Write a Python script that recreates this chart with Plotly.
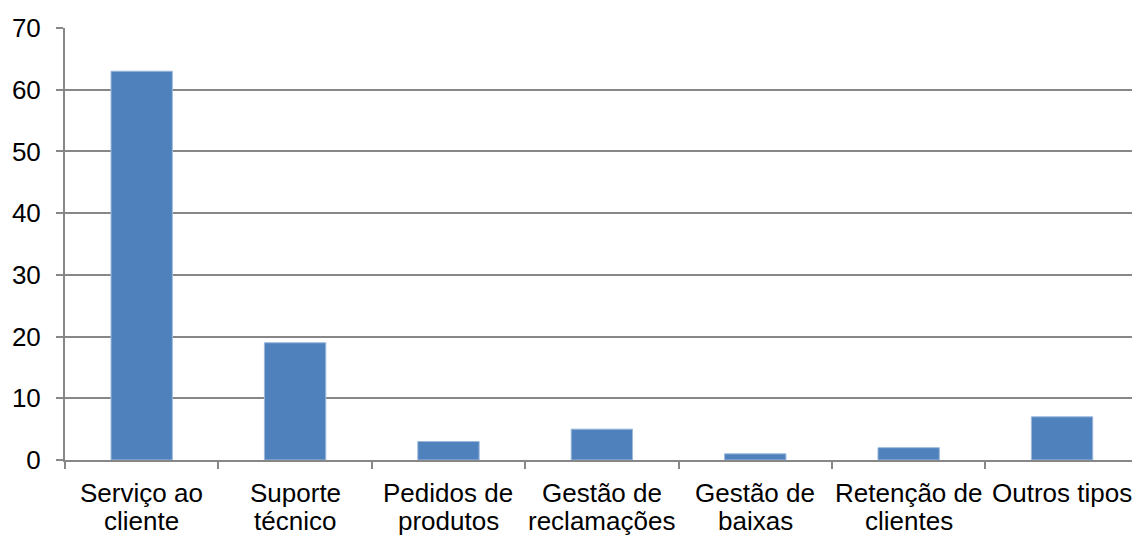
import plotly.graph_objects as go

categorias = [
    "Serviço ao<br>cliente",
    "Suporte<br>técnico",
    "Pedidos de<br>produtos",
    "Gestão de<br>reclamações",
    "Gestão de<br>baixas",
    "Retenção de<br>clientes",
    "Outros tipos",
]
valores = [63, 19, 3, 5, 1, 2, 7]
y_ticks = [0, 10, 20, 30, 40, 50, 60, 70]

cinza = "#878787"
fonte = dict(family="Liberation Sans, Arial, sans-serif", size=26, color="#000000")

W, H = 1132, 536
M_L, M_R, M_T, M_B = 65, 0, 28, 76
plot_h = H - M_T - M_B

fig = go.Figure(
    go.Bar(
        x=list(range(len(categorias))),
        y=valores,
        width=0.4,
        marker=dict(color="#4F81BD", line=dict(color="#9DB9DD", width=1)),
        hovertext=[c.replace("<br>", " ") for c in categorias],
        hoverinfo="text+y",
    )
)

# Category labels drawn line by line to keep the tight line spacing
linha_px = [493, 521]
for i, cat in enumerate(categorias):
    for j, linha in enumerate(cat.split("<br>")):
        fig.add_annotation(
            x=i,
            xref="x",
            y=(H - M_B - linha_px[j]) / plot_h,
            yref="paper",
            text=linha,
            showarrow=False,
            xanchor="center",
            yanchor="middle",
            font=fonte,
        )

fig.update_layout(
    width=W,
    height=H,
    margin=dict(l=M_L, r=M_R, t=M_T, b=M_B),
    paper_bgcolor="white",
    plot_bgcolor="white",
    showlegend=False,
    font=fonte,
)

fig.update_xaxes(
    range=[-0.5, 6.456],
    automargin=False,
    showline=True,
    linecolor=cinza,
    linewidth=2,
    ticks="outside",
    tickvals=[i - 0.5 for i in range(len(categorias))],
    showticklabels=False,
    ticklen=7,
    tickwidth=2,
    tickcolor=cinza,
    showgrid=False,
    zeroline=False,
)

fig.update_yaxes(
    range=[0, 70],
    tickvals=y_ticks,
    automargin=False,
    showline=True,
    linecolor=cinza,
    linewidth=2,
    ticks="outside",
    ticklen=7,
    tickwidth=2,
    tickcolor=cinza,
    showgrid=True,
    gridcolor=cinza,
    gridwidth=2,
    zeroline=False,
    tickfont=fonte,
    ticklabelstandoff=10,
)

fig.write_html("out.html")
